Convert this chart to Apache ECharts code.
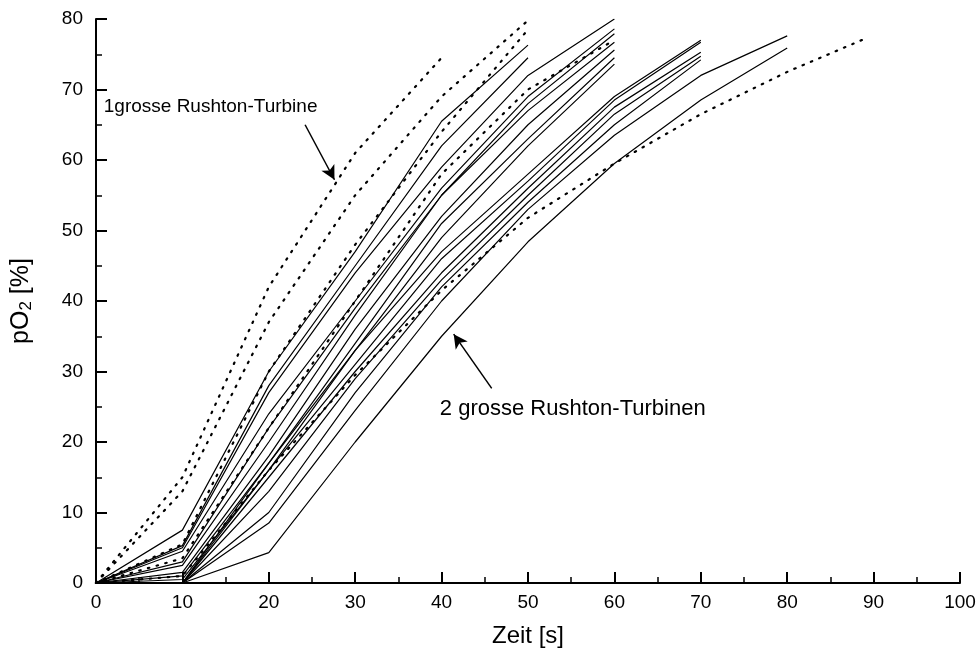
<!DOCTYPE html>
<html>
<head>
<meta charset="utf-8">
<script src="https://cdn.jsdelivr.net/npm/echarts@6/dist/echarts.min.js"></script>
<style>html,body{margin:0;padding:0;background:#fff;}#c{width:979px;height:659px;}</style>
</head>
<body>
<div id="c"></div>
<script>
// time points (s)
const times = [0, 10, 20, 30, 40, 50, 60, 70, 80, 89];
const xTicks = [0, 10, 20, 30, 40, 50, 60, 70, 80, 90, 100];
const yTicks = [0, 10, 20, 30, 40, 50, 60, 70, 80];

// dotted curves
const dotted1 = [0, 15, 42, 61, 74.5];
const dotted2 = [0, 13, 37, 55, 69, 79.8];
const dotted3 = [0, 5.5, 30, 48, 64, 78.5];
const dotted4 = [0, 3.5, 22, 40, 58, 70, 77];
const dotted5 = [0, 1, 16, 29.5, 41.5, 51.8, 59.5, 66.5, 72.5, 77.2];

// solid curves
const solid1 = [0, 7.5, 30, 47, 65.5, 76.3];
const solid2 = [0, 5.3, 28, 45, 62, 74.5];
const solid3 = [0, 5, 27, 44, 59, 72, 80];
const solid4 = [0, 4.5, 24, 40, 56, 69, 78.6];
const solid5 = [0, 3, 22, 39, 55, 68, 77.9];
const solid6 = [0, 2.5, 20, 38, 55, 67, 76.7];
const solid7 = [0, 1.5, 18, 36, 52, 65, 75.6];
const solid8 = [0, 1, 17, 34, 51, 63, 74.5];
const solid9 = [0, 0.5, 16, 33, 49, 62, 73.6];
const solid10 = [0, 0, 17, 33, 47, 58, 69, 77];
const solid11 = [0, 0, 16, 31, 46, 57, 68.5, 76.7];
const solid12 = [0, 0, 15, 30, 44, 56, 67.5, 75.3];
const solid13 = [0, 0, 13, 29, 43, 55, 66.5, 74.7];
const solid14 = [0, 0, 10, 27, 42, 54, 65, 74.2];
const solid15 = [0, 0, 8.5, 24.5, 40, 53, 63.5, 72, 77.6];
const solid16 = [0, 0, 4.3, 20, 35, 48.4, 59.5, 68.5, 75.9];

const dottedSets = [dotted1, dotted2, dotted3, dotted4, dotted5];
const solidSets = [solid1, solid2, solid3, solid4, solid5, solid6, solid7, solid8,
  solid9, solid10, solid11, solid12, solid13, solid14, solid15, solid16];

// annotations (data coordinates)
const label1 = { text: '1grosse Rushton-Turbine', at: [0.9, 67.5] };
const arrow1 = { from: [24.2, 65.0], to: [27.6, 57.2] };
const label2 = { text: '2 grosse Rushton-Turbinen', at: [39.8, 24.7] };
const arrow2 = { from: [45.8, 27.6], to: [41.4, 35.3] };

const FONT = '"Liberation Sans", Arial, Helvetica, sans-serif';

function pairs(vals) { return vals.map((v, i) => [times[i], v]); }

const series = [];
solidSets.forEach(s => series.push({
  type: 'line', data: pairs(s), symbol: 'none', silent: true,
  lineStyle: { color: '#000', width: 1.2 }
}));
dottedSets.forEach(s => series.push({
  type: 'line', data: pairs(s), symbol: 'none', silent: true,
  lineStyle: { color: '#000', width: 2.2, type: [1.5, 7.5], cap: 'round' }
}));
// arrows and annotation texts
series.push({
  type: 'line', data: [], symbol: 'none', silent: true,
  markLine: {
    silent: true, symbol: ['none', 'arrow'], symbolSize: [11, 14],
    lineStyle: { color: '#000', width: 1.5, type: 'solid' }, label: { show: false },
    data: [
      [{ coord: arrow1.from }, { coord: arrow1.to }],
      [{ coord: arrow2.from }, { coord: arrow2.to }]
    ]
  },
  markPoint: {
    silent: true, symbol: 'circle', symbolSize: 0,
    itemStyle: { color: '#000' },
    label: { show: true, position: 'right', distance: 0,
      color: '#000', fontSize: 19, fontFamily: FONT },
    data: [
      { coord: label1.at, label: { formatter: label1.text } },
      { coord: label2.at, label: { formatter: label2.text, fontSize: 22 } }
    ]
  }
});

const chart = echarts.init(document.getElementById('c'), null, { renderer: 'canvas' });
chart.setOption({
  animation: false,
  backgroundColor: '#fff',
  grid: { left: 96, right: 19, top: 19, bottom: 76, containLabel: false },
  xAxis: {
    type: 'value', min: xTicks[0], max: xTicks[xTicks.length - 1], interval: 10,
    name: 'Zeit [s]', nameLocation: 'middle', nameGap: 41,
    nameTextStyle: { fontSize: 24, fontFamily: FONT, color: '#000' },
    axisLine: { lineStyle: { color: '#000', width: 2 } },
    axisTick: { show: true, inside: true, length: 11, lineStyle: { color: '#000', width: 2 } },
    minorTick: { show: true, splitNumber: 2, length: 6, lineStyle: { color: '#000', width: 1.5 } },
    axisLabel: { fontSize: 19, fontFamily: FONT, color: '#000', margin: 10 },
    splitLine: { show: false }
  },
  yAxis: {
    type: 'value', min: yTicks[0], max: yTicks[yTicks.length - 1], interval: 10,
    name: 'pO{sub|2} [%]', nameLocation: 'middle', nameGap: 61, nameRotate: 90,
    nameTextStyle: { fontSize: 25, fontFamily: FONT, color: '#000',
      rich: { sub: { fontSize: 17, fontFamily: FONT, color: '#000', verticalAlign: 'bottom', padding: [11, 0, 0, 0] } } },
    axisLine: { show: true, lineStyle: { color: '#000', width: 2 } },
    axisTick: { show: true, inside: true, length: 11, lineStyle: { color: '#000', width: 2 } },
    minorTick: { show: true, splitNumber: 2, length: 6, lineStyle: { color: '#000', width: 1.5 } },
    axisLabel: { fontSize: 19, fontFamily: FONT, color: '#000', margin: 13 },
    splitLine: { show: false }
  },
  series: series
});
</script>
</body>
</html>
